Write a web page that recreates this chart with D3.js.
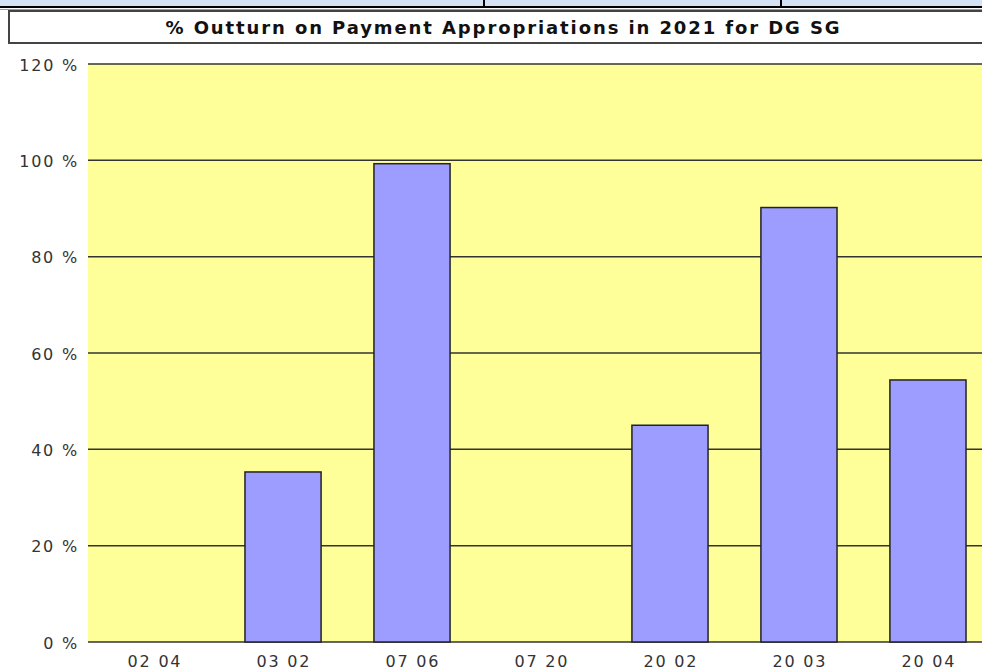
<!DOCTYPE html>
<html>
<head>
<meta charset="utf-8">
<script src="https://cdn.jsdelivr.net/npm/d3@7"></script>
<style>
  body { margin: 0; background: #fff; }
  svg { display: block; }
</style>
</head>
<body>
<svg width="982" height="671"></svg>
<script>
// 데이터
const categories = ["02 04", "03 02", "07 06", "07 20", "20 02", "20 03", "20 04"];
const outturn = [0, 35.3, 99.3, 0, 45.0, 90.2, 54.4];
const yTicks = [0, 20, 40, 60, 80, 100, 120];
const title = "% Outturn on Payment Appropriations in 2021 for DG SG";

const svg = d3.select("svg");

// 위쪽 표 머리 (잘린 부분)
svg.append("rect")
  .attr("x", 0).attr("y", 0)
  .attr("width", 982).attr("height", 7)
  .attr("fill", "#d5e1f5");
svg.append("line")
  .attr("x1", 0).attr("x2", 982)
  .attr("y1", 7).attr("y2", 7)
  .attr("stroke", "#000").attr("stroke-width", 2);
svg.append("line")
  .attr("x1", 0).attr("x2", 982)
  .attr("y1", 9.5).attr("y2", 9.5)
  .attr("stroke", "#999").attr("stroke-width", 1);
[484, 781].forEach(x => {
  svg.append("line")
    .attr("x1", x).attr("x2", x)
    .attr("y1", 0).attr("y2", 7)
    .attr("stroke", "#000").attr("stroke-width", 2);
});

// 제목 상자
svg.append("rect")
  .attr("x", 9).attr("y", 11)
  .attr("width", 990).attr("height", 32)
  .attr("fill", "#fff")
  .attr("stroke", "#444")
  .attr("stroke-width", 2);
svg.append("text")
  .attr("x", 503.5)
  .attr("y", 27)
  .attr("text-anchor", "middle")
  .attr("dominant-baseline", "central")
  .attr("font-family", "'DejaVu Sans'")
  .attr("font-weight", "bold")
  .attr("font-size", 18)
  .attr("letter-spacing", 1.9)
  .attr("fill", "#111")
  .text(title);

// 플롯 영역
const plotL = 88, plotR = 994, plotT = 64, plotB = 642;

const x = d3.scaleBand()
  .domain(categories)
  .range([plotL, plotR])
  .paddingInner(0.41)
  .paddingOuter(0.217);

const y = d3.scaleLinear()
  .domain([0, 120])
  .range([plotB, plotT]);

svg.append("rect")
  .attr("x", plotL).attr("y", plotT)
  .attr("width", plotR - plotL).attr("height", plotB - plotT)
  .attr("fill", "#ffff99");

// 격자선
svg.append("g")
  .selectAll("line")
  .data(yTicks)
  .join("line")
  .attr("x1", plotL).attr("x2", plotR)
  .attr("y1", d => y(d)).attr("y2", d => y(d))
  .attr("stroke", "#333")
  .attr("stroke-width", 1.5);

// 막대
svg.append("g")
  .selectAll("rect")
  .data(categories.map((c, i) => ({ c, v: outturn[i] })).filter(d => d.v > 0))
  .join("rect")
  .attr("x", d => x(d.c))
  .attr("y", d => y(d.v))
  .attr("width", x.bandwidth())
  .attr("height", d => y(0) - y(d.v))
  .attr("fill", "#9d9dff")
  .attr("stroke", "#222")
  .attr("stroke-width", 1.5);

// y축 글자
svg.append("g")
  .selectAll("text")
  .data(yTicks)
  .join("text")
  .attr("x", 79)
  .attr("y", d => y(d) + 1)
  .attr("text-anchor", "end")
  .attr("dominant-baseline", "central")
  .attr("font-family", "'DejaVu Sans'")
  .attr("font-size", 16)
  .attr("letter-spacing", 1.8)
  .attr("fill", "#333")
  .text(d => d + " %");

// x축 글자
svg.append("g")
  .selectAll("text")
  .data(categories)
  .join("text")
  .attr("x", d => x(d) + x.bandwidth() / 2 + 0.9)
  .attr("y", 661)
  .attr("text-anchor", "middle")
  .attr("dominant-baseline", "central")
  .attr("font-family", "'DejaVu Sans'")
  .attr("font-size", 16)
  .attr("letter-spacing", 1.8)
  .attr("fill", "#333")
  .text(d => d);
</script>
</body>
</html>
